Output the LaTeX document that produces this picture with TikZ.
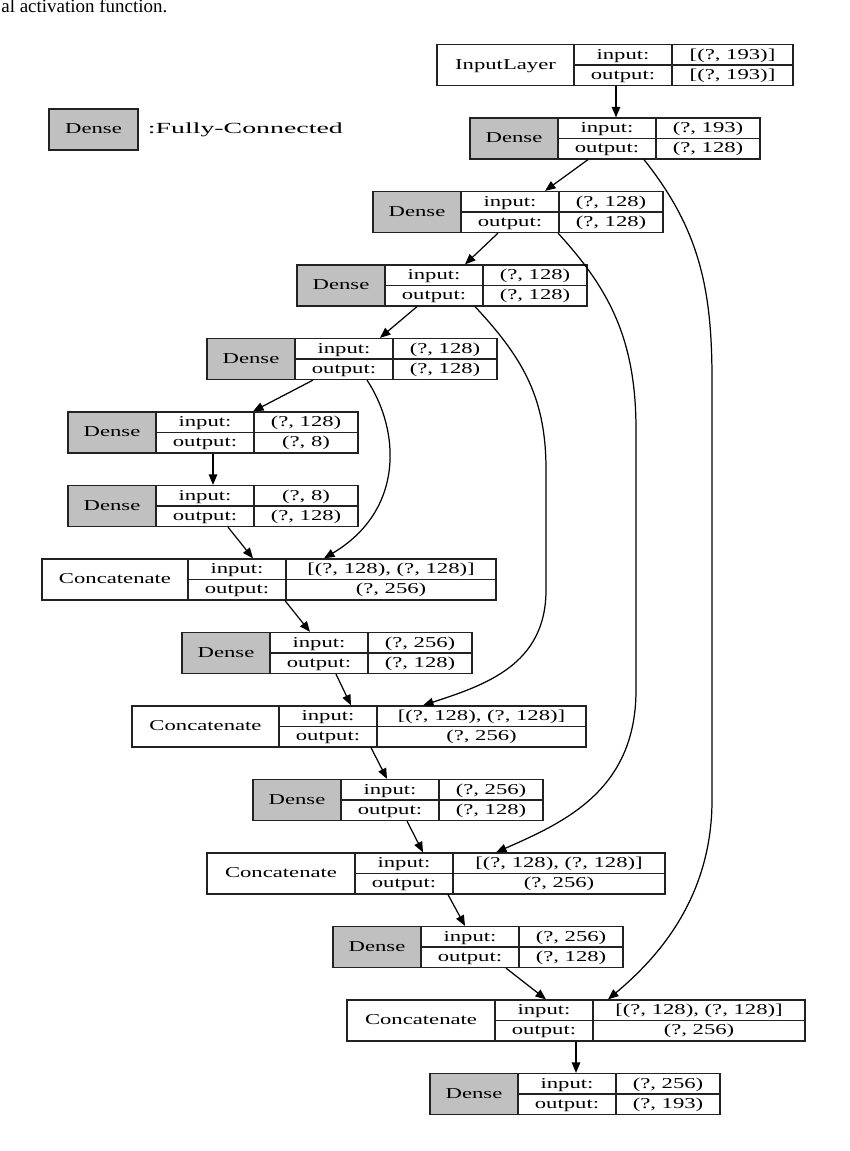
\documentclass[tikz,border=0pt]{standalone}
\usepackage{fontspec}
\setmainfont{Liberation Serif}
\newfontfamily\gvfont{Liberation Serif}[FakeStretch=1.5]
\newfontfamily\keyfont{Liberation Serif}[FakeStretch=1.8]
\usetikzlibrary{arrows.meta,fit}
\definecolor{densegray}{HTML}{C0C0C0}
\definecolor{gvline}{HTML}{222222}

\tikzset{
  cellbox/.style={draw=gvline,line width=0.7pt,inner sep=0pt},
  cellline/.style={draw=gvline,line width=0.7pt},
  celltext/.style={font=\gvfont\fontsize{8.6}{10}\selectfont,inner sep=0pt,
    text height=0.68em,text depth=0.18em},
  conn/.style={-{Triangle[length=2.1mm,width=1.7mm]},line width=0.7pt},
}

% one layer record: [fill]{name}{left}{row}{label width}{value width}{label}{input}{output}
\newcommand{\layer}[9][white]{%
  \pgfmathsetmacro{\ym}{65+73.5*#4}%
  \pgfmathsetmacro{\xa}{#3+#5}%
  \pgfmathsetmacro{\xb}{\xa+98}%
  \pgfmathsetmacro{\xr}{\xb+#6}%
  \fill[#1] (#3,\ym-20.5) rectangle (\xa,\ym+20.5);
  \node[cellbox,fit={(#3,\ym-20.5) (\xr,\ym+20.5)}] (#2) {};
  \draw[cellline] (\xa,\ym-20.5) -- (\xa,\ym+20.5)
    (\xb,\ym-20.5) -- (\xb,\ym+20.5) (\xa,\ym) -- (\xr,\ym);
  \node[celltext] (#2-lbl) at ({(#3+\xa)/2},\ym) {#7};
  \node[celltext] (#2-in) at ({(\xa+\xb)/2},\ym-10) {input:};
  \node[celltext] (#2-out) at ({(\xa+\xb)/2},\ym+10) {output:};
  \node[celltext] (#2-inv) at ({(\xb+\xr)/2},\ym-10) {#8};
  \node[celltext] (#2-outv) at ({(\xb+\xr)/2},\ym+10) {#9};
}

\begin{document}
\begin{tikzpicture}[x=0.02cm,y=-0.02cm]
  \useasboundingbox (0,0) rectangle (849,1151);
  \node[anchor=base west,inner sep=0pt,font=\fontsize{10.8}{12}\selectfont]
    (caption) at (1,13) {al activation function.};

  % key
  \node[cellbox,fill=densegray,fit={(49,109) (138,150)}] (key) {};
  \node[celltext] (key-lbl) at (key) {Dense};
  \node[anchor=west,inner sep=0pt,font=\keyfont\fontsize{8.8}{10}\selectfont]
    (key-text) at ([xshift=0.18cm]key.east) {:Fully-Connected};

  % layers
  \layer{inp}{437}{0}{137}{121}{InputLayer}{[(?, 193)]}{[(?, 193)]}
  \layer[densegray]{d1}{470}{1}{88}{104}{Dense}{(?, 193)}{(?, 128)}
  \layer[densegray]{d2}{373}{2}{88}{104}{Dense}{(?, 128)}{(?, 128)}
  \layer[densegray]{d3}{297}{3}{88}{104}{Dense}{(?, 128)}{(?, 128)}
  \layer[densegray]{d4}{207}{4}{88}{104}{Dense}{(?, 128)}{(?, 128)}
  \layer[densegray]{d5}{68}{5}{88}{104}{Dense}{(?, 128)}{(?, 8)}
  \layer[densegray]{d6}{68}{6}{88}{104}{Dense}{(?, 8)}{(?, 128)}
  \layer{c1}{42}{7}{146}{210}{Concatenate}{[(?, 128), (?, 128)]}{(?, 256)}
  \layer[densegray]{d7}{182}{8}{88}{104}{Dense}{(?, 256)}{(?, 128)}
  \layer{c2}{132}{9}{147}{209}{Concatenate}{[(?, 128), (?, 128)]}{(?, 256)}
  \layer[densegray]{d8}{253}{10}{88}{104}{Dense}{(?, 256)}{(?, 128)}
  \layer{c3}{207}{11}{148}{212}{Concatenate}{[(?, 128), (?, 128)]}{(?, 256)}
  \layer[densegray]{d9}{333}{12}{88}{104}{Dense}{(?, 256)}{(?, 128)}
  \layer{c4}{347}{13}{148}{212}{Concatenate}{[(?, 128), (?, 128)]}{(?, 256)}
  \layer[densegray]{d10}{430}{14}{88}{104}{Dense}{(?, 256)}{(?, 193)}

  % main chain
  \draw[conn] (616,0 |- inp.south) -- (616,0 |- d1.north);
  \draw[conn] (588,0 |- d1.south) -- (545,0 |- d2.north);
  \draw[conn] (498,0 |- d2.south) -- (465,0 |- d3.north);
  \draw[conn] (417,0 |- d3.south) -- (380,0 |- d4.north);
  \draw[conn] (313,0 |- d4.south) -- (253,0 |- d5.north);
  \draw[conn] (213,0 |- d5.south) -- (213,0 |- d6.north);
  \draw[conn] (228,0 |- d6.south) -- (253,0 |- c1.north);
  \draw[conn] (285,0 |- c1.south) -- (310,0 |- d7.north);
  \draw[conn] (336,0 |- d7.south) -- (351,0 |- c2.north);
  \draw[conn] (371,0 |- c2.south) -- (387,0 |- d8.north);
  \draw[conn] (407,0 |- d8.south) -- (423,0 |- c3.north);
  \draw[conn] (448,0 |- c3.south) -- (465,0 |- d9.north);
  \draw[conn] (506,0 |- d9.south) -- (546,0 |- c4.north);
  \draw[conn] (576,0 |- c4.south) -- (576,0 |- d10.north);

  % skip connections
  \draw[conn] (367,0 |- d4.south) .. controls (400,430) and (405,510)
    .. (324,0 |- c1.north);
  \draw[conn] (475,0 |- d3.south) .. controls (525,360) and (546,400)
    .. (546,470) -- (546,590) .. controls (546,665) and (485,685)
    .. (423,0 |- c2.north);
  \draw[conn] (558,0 |- d2.south) .. controls (610,290) and (636,340)
    .. (636,430) -- (636,690) .. controls (636,790) and (565,822)
    .. (496,0 |- c3.north);
  \draw[conn] (644,0 |- d1.south) .. controls (700,230) and (712,290)
    .. (712,380) -- (712,800) .. controls (712,900) and (655,960)
    .. (608,0 |- c4.north);
\end{tikzpicture}
\end{document}
